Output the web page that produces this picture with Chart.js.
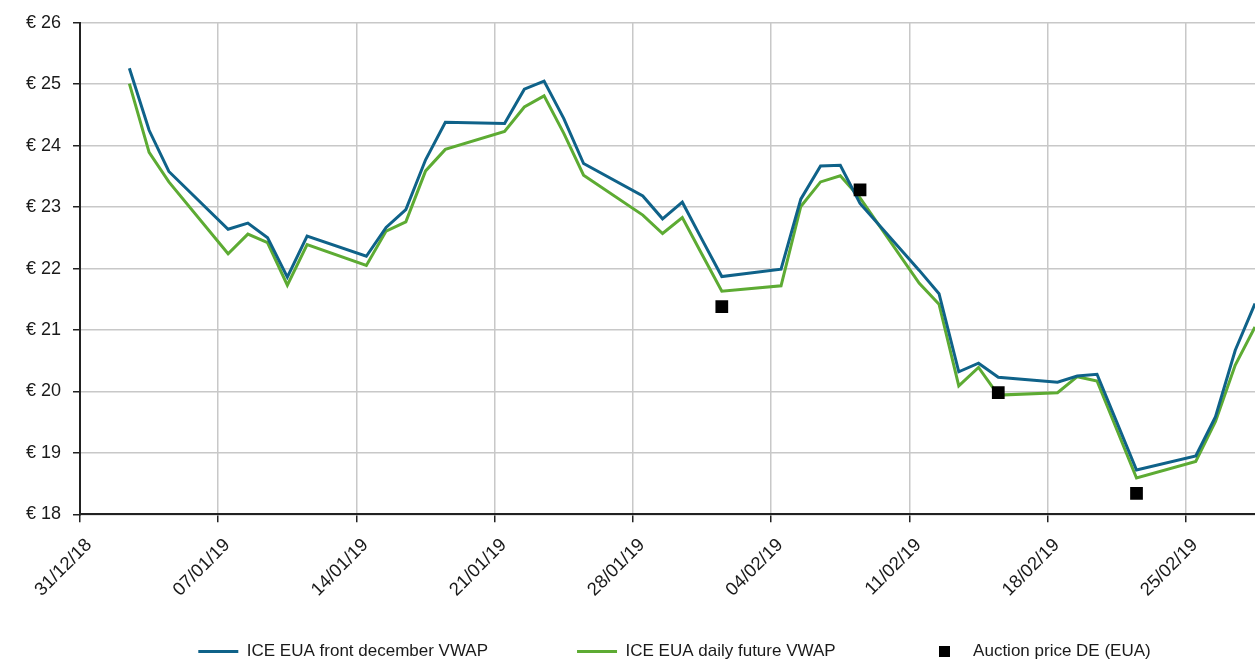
<!DOCTYPE html>
<html>
<head>
<meta charset="utf-8">
<script src="https://cdn.jsdelivr.net/npm/chart.js@4.4.1/dist/chart.umd.min.js"></script>
<style>
  html, body { margin: 0; padding: 0; background: #ffffff; }
  #wrap { width: 1255px; height: 670px; }
</style>
</head>
<body>
<div id="wrap"><canvas id="c" width="1255" height="670"></canvas></div>
<script>
// ---- data ----
const tradeDates = ['02/01/19','03/01/19','04/01/19','07/01/19','08/01/19','09/01/19','10/01/19','11/01/19',
  '14/01/19','15/01/19','16/01/19','17/01/19','18/01/19','21/01/19','22/01/19','23/01/19','24/01/19','25/01/19',
  '28/01/19','29/01/19','30/01/19','31/01/19','01/02/19','04/02/19','05/02/19','06/02/19','07/02/19','08/02/19',
  '11/02/19','12/02/19','13/02/19','14/02/19','15/02/19','18/02/19','19/02/19','20/02/19','21/02/19','22/02/19',
  '25/02/19','26/02/19','27/02/19','28/02/19'];
const frontDecVWAP = [25.26,24.25,23.58,22.64,22.74,22.50,21.86,22.53,
  22.20,22.67,22.96,23.77,24.38,24.36,24.92,25.05,24.44,23.71,
  23.18,22.81,23.08,22.47,21.87,21.99,23.13,23.67,23.68,23.06,
  21.97,21.59,20.32,20.46,20.23,20.15,20.25,20.28,19.50,18.72,
  18.95,19.59,20.67,21.43];
const dailyFutureVWAP = [25.01,23.89,23.41,22.24,22.56,22.42,21.73,22.39,
  22.05,22.61,22.76,23.59,23.94,24.23,24.63,24.81,24.20,23.52,
  22.87,22.57,22.83,22.23,21.63,21.72,23.01,23.41,23.51,23.15,
  21.76,21.42,20.09,20.39,19.94,19.98,20.24,20.17,19.38,18.59,
  18.86,19.51,20.43,21.05];
const auctionDates = ['01/02/19','08/02/19','15/02/19','22/02/19'];
const auctionPrice = [21.38,23.28,19.98,18.34];
const xTickLabels = ['31/12/18','07/01/19','14/01/19','21/01/19','28/01/19','04/02/19','11/02/19','18/02/19','25/02/19'];
const yTicks = [18,19,20,21,22,23,24,25,26];
const seriesNames = ['ICE EUA front december VWAP','ICE EUA daily future VWAP','Auction price DE (EUA)'];

// day index relative to 31/12/18, points centred in their day
const origin = Date.UTC(2018, 11, 31);
function dayPos(s) {
  const [d, m, y] = s.split('/').map(Number);
  return (Date.UTC(2000 + y, m - 1, d) - origin) / 86400000 + 0.5;
}
const toXY = (dates, vals) => dates.map((d, i) => ({ x: dayPos(d), y: vals[i] }));

const FONT = "'Liberation Sans', Arial, sans-serif";
const TXT = '#1a1a1a';
const BLUE = '#0f6289';
const GREEN = '#5dab33';

// small square used as legend symbol for the auction series
const sq = document.createElement('canvas');
sq.width = 11; sq.height = 11;
(function(){ const g = sq.getContext('2d'); g.fillStyle = '#000'; g.fillRect(0, 0, 11, 11); })();

const LEG_PAD = 89;
const X_AXIS_H = 670 - 116 - 514.3;

// let the rotated x labels draw below the (short) x-axis box, nudge legend
const labelRoom = {
  id: 'labelRoom',
  afterLayout(chart) {
    chart.scales.x.bottom = chart.height;
    chart.legend.left += 7;
    chart.legend.right += 7;
  }
};

new Chart(document.getElementById('c'), {
  type: 'line',
  plugins: [labelRoom],
  data: {
    datasets: [
      { label: seriesNames[0], data: toXY(tradeDates, frontDecVWAP), borderColor: BLUE, backgroundColor: BLUE,
        borderWidth: 3, pointRadius: 0, pointStyle: 'line', tension: 0, order: 2 },
      { label: seriesNames[1], data: toXY(tradeDates, dailyFutureVWAP), borderColor: GREEN, backgroundColor: GREEN,
        borderWidth: 3, pointRadius: 0, pointStyle: 'line', tension: 0, order: 3 },
      { label: seriesNames[2], data: toXY(auctionDates, auctionPrice), showLine: false, borderColor: '#000',
        backgroundColor: '#000', borderWidth: 0, pointStyle: 'rect', pointRadius: 9, pointHoverRadius: 9, order: 1 }
    ]
  },
  options: {
    responsive: false,
    animation: false,
    devicePixelRatio: 1,
    layout: { autoPadding: false, padding: { top: 22, right: 0, left: 0, bottom: 0 } },
    plugins: {
      tooltip: { enabled: false },
      legend: {
        position: 'bottom',
        fullSize: false,
        align: 'center',
        labels: {
          usePointStyle: true,
          pointStyleWidth: 40,
          padding: LEG_PAD,
          color: TXT,
          font: { family: FONT, size: 17 },
          sort: (a, b) => a.datasetIndex - b.datasetIndex,
          generateLabels(chart) {
            const items = Chart.defaults.plugins.legend.labels.generateLabels(chart);
            items.forEach(it => { if (it.datasetIndex === 2) it.pointStyle = sq; });
            return items;
          }
        }
      }
    },
    scales: {
      x: {
        type: 'linear',
        min: 0,
        max: 59.5,
        afterFit(scale) { scale.height = X_AXIS_H; scale.paddingRight = 0; scale.paddingLeft = 0; },
        grid: { color: '#c8c8c8', lineWidth: 1.5, tickColor: '#222', tickLength: 8, drawTicks: true },
        border: { color: '#222', width: 2 },
        ticks: {
          stepSize: 7,
          includeBounds: false,
          autoSkip: false,
          minRotation: 45,
          maxRotation: 45,
          padding: 12,
          labelOffset: 9,
          color: TXT,
          font: { family: FONT, size: 18.5 },
          callback: (v) => xTickLabels[Math.round(v / 7)] ?? ''
        }
      },
      y: {
        min: 18,
        max: 26,
        afterFit(scale) { scale.width = 80; },
        grid: { color: '#c8c8c8', lineWidth: 1.5, tickColor: '#222', tickLength: 7, drawTicks: true },
        border: { color: '#222', width: 2 },
        afterBuildTicks(scale) { scale.ticks = yTicks.map(v => ({ value: v })); },
        ticks: {
          padding: 12,
          color: TXT,
          font: { family: FONT, size: 18 },
          callback: (v) => '€ ' + v
        }
      }
    }
  }
});
</script>
</body>
</html>
